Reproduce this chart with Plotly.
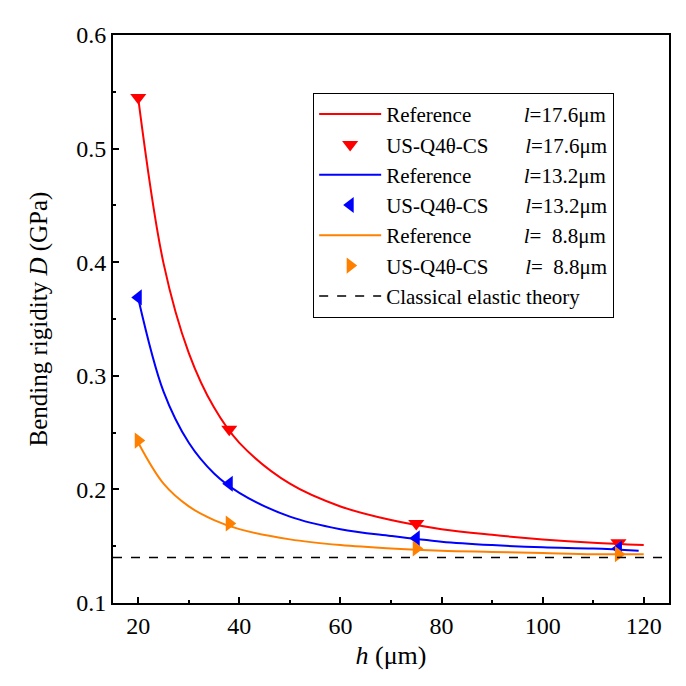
import plotly.graph_objects as go

# Reference curves
h_ref = [20, 25, 30, 35, 40, 50, 60, 70, 80, 90, 100, 110, 120]
d_ref_176 = [0.544, 0.399, 0.320, 0.272, 0.241, 0.205, 0.185, 0.173, 0.165, 0.160, 0.156, 0.153, 0.151]
h_ref_132 = [20, 25, 30, 35, 40, 50, 60, 70, 80, 90, 100, 110, 119]
d_ref_132 = [0.368, 0.286, 0.241, 0.214, 0.197, 0.176, 0.165, 0.159, 0.154, 0.151, 0.149, 0.148, 0.146]
d_ref_88 = [0.241, 0.205, 0.185, 0.173, 0.165, 0.156, 0.151, 0.148, 0.146, 0.145, 0.144, 0.143, 0.143]

# US-Q4θ-CS points
h_pts = [20, 38, 75, 115]
d_pts_176 = [0.545, 0.253, 0.170, 0.153]
d_pts_132 = [0.369, 0.205, 0.157, 0.148]
d_pts_88 = [0.243, 0.170, 0.148, 0.143]

# Classical elastic theory
h_cls = [15, 125]
d_cls = [0.14, 0.14]

RED, BLUE, ORANGE = "#FF0000", "#0000FF", "#FF8000"
FONT = "Liberation Serif"
SP_REF = "&nbsp;" * 10
SP_US = "&nbsp;" * 7

fig = go.Figure()
fig.add_trace(go.Scatter(x=h_ref, y=d_ref_176, mode="lines", line=dict(color=RED, width=2, shape="spline"),
                         name=f"Reference{SP_REF}<i>l</i>=17.6μm"))
fig.add_trace(go.Scatter(x=h_pts, y=d_pts_176, mode="markers", marker=dict(symbol="triangle-down", color=RED, size=14),
                         name=f"US-Q4θ-CS{SP_US}<i>l</i>=17.6μm"))
fig.add_trace(go.Scatter(x=h_ref_132, y=d_ref_132, mode="lines", line=dict(color=BLUE, width=2, shape="spline"),
                         name=f"Reference{SP_REF}<i>l</i>=13.2μm"))
fig.add_trace(go.Scatter(x=h_pts, y=d_pts_132, mode="markers", marker=dict(symbol="triangle-left", color=BLUE, size=14),
                         name=f"US-Q4θ-CS{SP_US}<i>l</i>=13.2μm"))
fig.add_trace(go.Scatter(x=h_ref, y=d_ref_88, mode="lines", line=dict(color=ORANGE, width=2, shape="spline"),
                         name=f"Reference{SP_REF}<i>l</i>=&nbsp;&nbsp;8.8μm"))
fig.add_trace(go.Scatter(x=h_pts, y=d_pts_88, mode="markers", marker=dict(symbol="triangle-right", color=ORANGE, size=14),
                         name=f"US-Q4θ-CS{SP_US}<i>l</i>=&nbsp;&nbsp;8.8μm"))
fig.add_trace(go.Scatter(x=h_cls, y=d_cls, mode="lines", line=dict(color="black", width=1.5, dash="dash"),
                         name="Classical elastic theory"))

axis_common = dict(
    showline=True, linecolor="black", linewidth=2, mirror=True,
    ticks="inside", ticklen=6, tickwidth=1.5, tickcolor="black",
    showgrid=False, zeroline=False,
    tickfont=dict(family=FONT, size=24, color="black"),
)
fig.update_xaxes(range=[15, 125], tickvals=[20, 40, 60, 80, 100, 120],
                 minor=dict(ticks="inside", ticklen=3, tickwidth=1.5, tickcolor="black", dtick=10, tick0=0),
                 title=dict(text="<i>h</i> (μm)", font=dict(family=FONT, size=26, color="black"), standoff=8),
                 **axis_common)
fig.update_yaxes(range=[0.1, 0.6], tickvals=[0.1, 0.2, 0.3, 0.4, 0.5, 0.6], ticktext=["0.1", "0.2", "0.3", "0.4", "0.5", "0.6"],
                 minor=dict(ticks="inside", ticklen=3, tickwidth=1.5, tickcolor="black", dtick=0.05, tick0=0.1),
                 title=dict(text="Bending rigidity <i>D</i> (GPa)", font=dict(family=FONT, size=25, color="black"), standoff=21),
                 **axis_common)

fig.update_layout(
    width=686, height=686,
    margin=dict(l=113, r=17, t=35, b=83),
    paper_bgcolor="white", plot_bgcolor="white",
    showlegend=True,
    legend=dict(x=0.36, y=0.898, xanchor="left", yanchor="top",
                bordercolor="black", borderwidth=1, bgcolor="white",
                font=dict(family=FONT, size=21, color="black"),
                tracegroupgap=0, itemwidth=62),
)

fig.write_html("out.html")
